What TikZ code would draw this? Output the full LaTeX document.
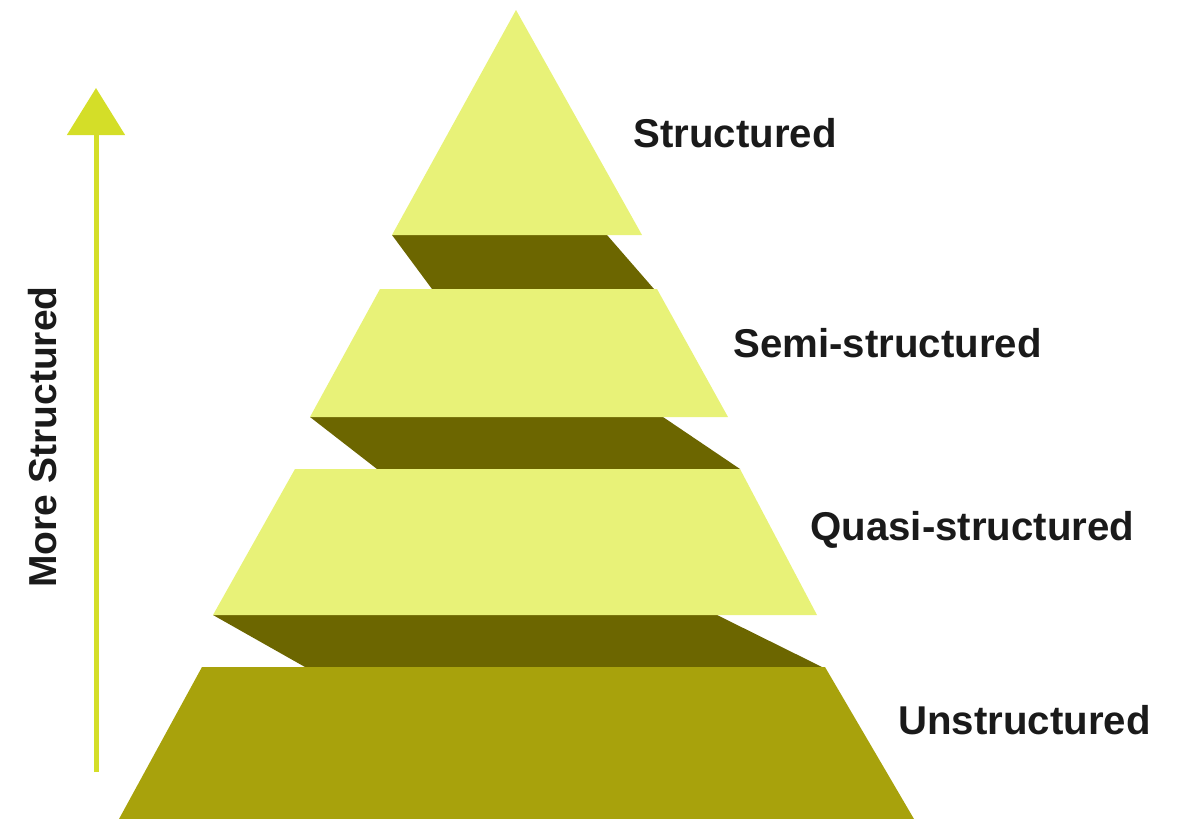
\documentclass[tikz,border=0pt]{standalone}
\usepackage{fontspec}
\setmainfont{Liberation Sans}
\usetikzlibrary{arrows.meta}
\definecolor{layerlight}{RGB}{232,242,120}
\definecolor{layerdark}{RGB}{108,102,0}
\definecolor{layerbase}{RGB}{168,162,12}
\definecolor{arrowyellow}{RGB}{212,222,40}
\definecolor{labeltext}{RGB}{26,26,26}
\begin{document}
\begin{tikzpicture}[x=0.5pt,y=-0.5pt,
		levellabel/.style={anchor=west,inner sep=0pt,text=labeltext,font=\fontsize{20.1}{24}\selectfont\bfseries}]
		\useasboundingbox (0,0) rectangle (1180,819);
		
		% dark undersides
		\fill[layerdark] (392,235) -- (607,235) -- (654,289) -- (432,289) -- cycle;
		\fill[layerdark] (310,417) -- (663,417) -- (740,469) -- (377,469) -- cycle;
		\fill[layerdark] (213,615) -- (717,615) -- (822,667) -- (305,667) -- cycle;
		
		% layers
		\fill[layerlight] (516,10) -- (392,235) -- (642,235) -- cycle;
		\fill[layerlight] (380,289) -- (657,289) -- (728,417) -- (310,417) -- cycle;
		\fill[layerlight] (295,469) -- (740,469) -- (817,615) -- (213,615) -- cycle;
		\fill[layerbase] (202,667) -- (825,667) -- (914,819) -- (119,819) -- cycle;
		
		\node[levellabel] (structured) at (633,133) {Structured};
		\node[levellabel] (semi) at (733,343) {Semi-structured};
		\node[levellabel] (quasi) at (810,530) {Quasi-structured};
		\node[levellabel] (unstructured) at (898,720) {Unstructured};
		
		% arrow
		\coordinate (arrowfoot) at (96,772);
		\coordinate (arrowtip) at (96,88);
		\draw[arrowyellow,line width=2.5pt,-{Triangle[length=23.5pt,width=28.5pt]}] (arrowfoot) -- (arrowtip);
		\node[rotate=90,inner sep=0pt,text=labeltext,font=\fontsize{19.5}{23}\selectfont\bfseries] (more) at (43,437) {More Structured};
	\end{tikzpicture}
\end{document}
